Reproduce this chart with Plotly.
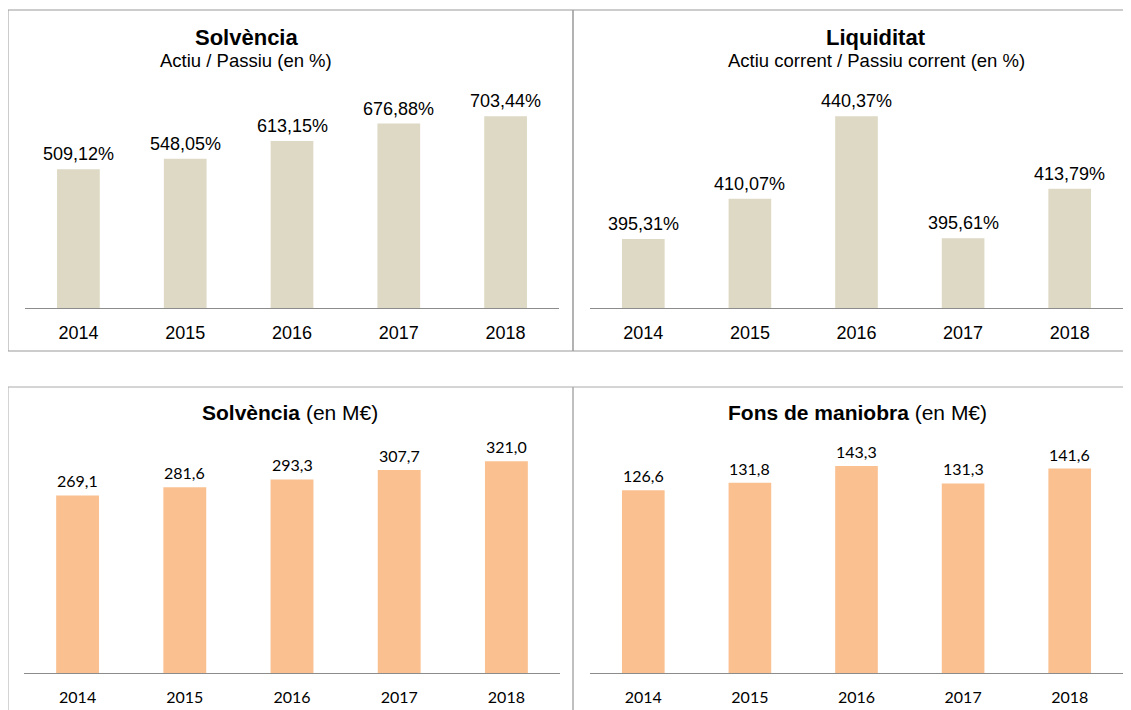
import plotly.graph_objects as go

# the page body keeps its default 8px margin, so the figure is drawn 8px in
W, H = 1123, 702
OFF = 8

years = ["2014", "2015", "2016", "2017", "2018"]

solvencia_pct = [509.12, 548.05, 613.15, 676.88, 703.44]
liquiditat_pct = [395.31, 410.07, 440.37, 395.61, 413.79]
solvencia_meur = [269.1, 281.6, 293.3, 307.7, 321.0]
fons_maniobra_meur = [126.6, 131.8, 143.3, 131.3, 141.6]

BEIGE = "#DDD9C4"
ORANGE = "#FAC090"
AXIS_GREY = "#8C8C8C"
ARIAL = "Liberation Sans, Arial, sans-serif"
CALIBRI = "Lato, Carlito, Calibri, sans-serif"


def px_x(x):
    return (x - OFF) / W


def px_y(y):
    return 1 - (y - OFF) / H


def fmt_pct(v):
    return f"{v:,.2f}%".replace(".", ",")


def fmt_meur(v):
    return f"{v:.1f}".replace(".", ",")


# (values, colour, x domain px, y domain px (top, bottom), y range, label fn, font,
#  label size, tick size, tick standoff)
panels = [
    (solvencia_pct, BEIGE, (25, 559), (90, 308), (0, 800), fmt_pct, ARIAL, 18, 18, 8),
    (liquiditat_pct, BEIGE, (590, 1123), (90, 308), (370, 450), fmt_pct, ARIAL, 18, 18, 8),
    (solvencia_meur, ORANGE, (24, 560), (442, 673), (0, 350), fmt_meur, CALIBRI, 16, 16, 10),
    (fons_maniobra_meur, ORANGE, (590, 1123), (442, 673), (0, 160), fmt_meur, CALIBRI, 16, 16, 10),
]

fig = go.Figure()
annotations = []

for i, (vals, colour, (x0, x1), (yt, yb), yr, fmt, font, lab_size, tick_size, standoff) in enumerate(panels):
    n = "" if i == 0 else str(i + 1)
    fig.add_trace(go.Bar(
        x=years, y=vals, marker=dict(color=colour, line=dict(width=0)),
        xaxis="x" + n, yaxis="y" + n, showlegend=False, hoverinfo="skip",
    ))
    fig.layout["xaxis" + n] = dict(
        type="category", domain=[px_x(x0), px_x(x1)], anchor="y" + n,
        range=[-0.5, len(years) - 0.5],
        showline=True, linecolor=AXIS_GREY, linewidth=1,
        showgrid=False, zeroline=False, ticks="", automargin=False,
        ticklabelstandoff=standoff,
        tickfont=dict(family=font, size=tick_size, color="#000"),
        fixedrange=True,
    )
    fig.layout["yaxis" + n] = dict(
        domain=[px_y(yb), px_y(yt)], anchor="x" + n, range=list(yr),
        visible=False, showgrid=False, zeroline=False, fixedrange=True,
        automargin=False,
    )
    # category index as x so "2014" is not read as a number
    for j, v in enumerate(vals):
        annotations.append(dict(
            x=j, y=v, xref="x" + n, yref="y" + n, text=fmt(v),
            showarrow=False, yanchor="bottom", yshift=3,
            font=dict(family=font, size=lab_size, color="#000"),
        ))

# panel titles
titles = [
    ("<b>Solvència</b>", 246, 37, 22),
    ("Actiu / Passiu (en %)", 246, 60, 18.5),
    ("<b>Liquiditat</b>", 876, 37, 22),
    ("Actiu corrent / Passiu corrent (en %)", 876, 60, 18.5),
    ("<b>Solvència</b> (en M€)", 290, 412, 21),
    ("<b>Fons de maniobra</b> (en M€)", 857, 412, 21),
]
for text, cx, cy, size in titles:
    annotations.append(dict(
        x=px_x(cx), y=px_y(cy), xref="paper", yref="paper", text=text,
        showarrow=False, xanchor="center", yanchor="middle",
        font=dict(family=ARIAL, size=size, color="#000"),
    ))

# panel frames
frames = [
    (8, 10, 573, 351, "#999999"),
    (573, 10, 1140, 351, "#999999"),
    (8, 387, 573, 720, "#AAAAAA"),
    (573, 387, 1140, 720, "#AAAAAA"),
]
shapes = [
    dict(type="rect", xref="paper", yref="paper",
         x0=px_x(a), x1=px_x(c), y0=px_y(d), y1=px_y(b),
         line=dict(color=col, width=1), fillcolor="rgba(0,0,0,0)", layer="below")
    for a, b, c, d, col in frames
]

fig.update_layout(
    width=W, height=H,
    margin=dict(l=0, r=0, t=0, b=0),
    paper_bgcolor="white", plot_bgcolor="white",
    bargap=0.6,
    annotations=annotations,
    shapes=shapes,
)

fig.write_html("out.html")
